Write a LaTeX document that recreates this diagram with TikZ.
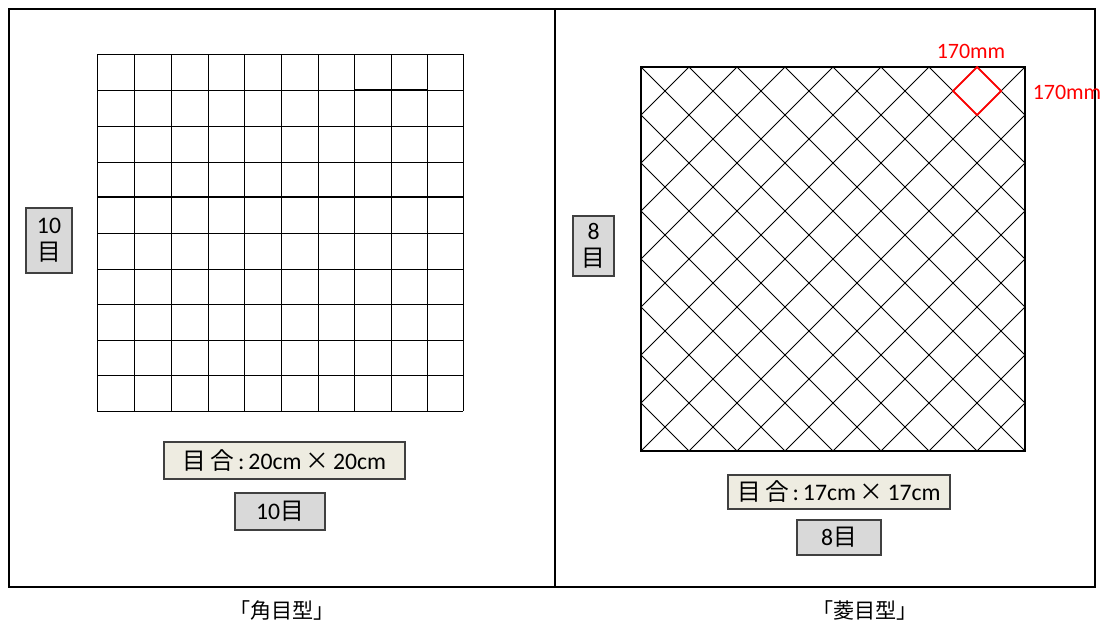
\documentclass[tikz,border=0pt]{standalone}
\usepackage{fontspec}
\setmainfont{Carlito}
\newfontfamily\cjk{Noto Sans CJK JP}
\definecolor{graybox}{HTML}{D9D9D9}
\definecolor{beigebox}{HTML}{EEECE1}
\definecolor{boxline}{HTML}{404040}
\begin{document}
\begin{tikzpicture}[x=0.02cm,y=-0.02cm,
  gbox/.style={draw=boxline,line width=0.7pt,fill=graybox,inner sep=0pt,align=center,font=\fontsize{13.5}{15.5}\selectfont},
  bbox/.style={draw=boxline,line width=0.7pt,fill=beigebox,inner sep=0pt,font=\fontsize{13.5}{15.5}\selectfont},
  gridline/.style={line width=0.55pt,black},
  redlbl/.style={text=red,font=\fontsize{12.5}{14}\selectfont,inner sep=0pt},
  caption/.style={font=\cjk\fontsize{12}{14}\selectfont,inner sep=0pt}]
\useasboundingbox (0,0) rectangle (1104,626);
\fill[white] (0,0) rectangle (1104,626);
% outer table
\draw[line width=1.1pt] (9,9) rectangle (1095,587);
\draw[line width=1.1pt] (555,9) -- (555,587);
% left square grid
\foreach \x in {97,134,171,208,244,281,318,354,391,427,463}
  \draw[gridline] (\x,54) -- (\x,411);
\foreach \y in {54,90,126,162,197,233,269,304,340,375,411}
  \draw[gridline] (97,\y) -- (463,\y);
\draw[line width=0.95pt] (97,197) -- (463,197);
\draw[line width=0.95pt] (354,90) -- (427,90);
% right diamond grid
\begin{scope}
\clip (641,67) rectangle (1025,451);
\foreach \k in {-8,...,8}
  \draw[gridline] ({641+48*\k-384},{67-384}) -- ({641+48*\k+384},451);
\foreach \k in {0,...,16}
  \draw[gridline] ({641+48*\k+384},{67-384}) -- ({641+48*\k-384},451);
\end{scope}
\draw[line width=1.4pt] (641,67) rectangle (1025,451);
\draw[red,line width=1pt] (977,67) -- (1001,91) -- (977,115) -- (953,91) -- cycle;
\node[redlbl] (r1) at (971,51) {170mm};
\node[redlbl] (r2) at (1067,92) {170mm};
% labels
\node[gbox,minimum width=0.92cm,minimum height=1.3cm] (lbl10) at (49,240.5) {10\\{\cjk 目}};
\node[bbox,minimum width=4.82cm,minimum height=0.74cm] (meL) at (284.5,460.5) {{\cjk 目}\,{\cjk 合}\,:\,20cm\,{\cjk ×}\,20cm};
\node[gbox,minimum width=1.8cm,minimum height=0.74cm] (n10) at (280,511.5) {10{\cjk 目}};
\node[gbox,minimum width=0.82cm,minimum height=1.2cm] (lbl8) at (593.5,246) {8\\{\cjk 目}};
\node[bbox,minimum width=4.44cm,minimum height=0.68cm] (meR) at (839,492) {{\cjk 目}\,{\cjk 合}\,:\,17cm\,{\cjk ×}\,17cm};
\node[gbox,minimum width=1.68cm,minimum height=0.7cm] (n8) at (839,537.5) {8{\cjk 目}};
% captions
\node[caption] (capL) at (282,610) {「角目型」};
\node[caption] (capR) at (865,610) {「菱目型」};
\end{tikzpicture}
\end{document}
